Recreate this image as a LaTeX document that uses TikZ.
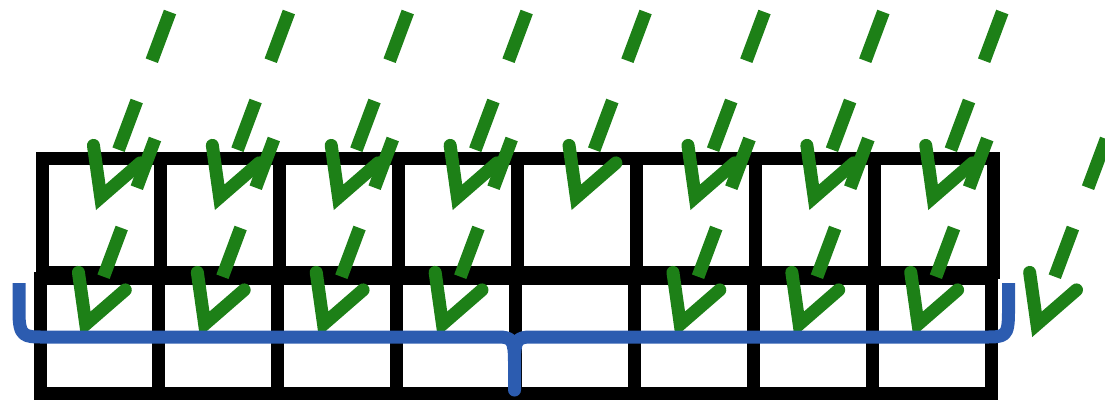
\documentclass[tikz,border=0pt]{standalone}
\usepackage{xcolor}
\usepackage{tikz}
\usetikzlibrary{arrows.meta, positioning}

\definecolor{rainGreen}{RGB}{29,128,23}
\definecolor{braceBlue}{RGB}{44,92,176}

\begin{document}
\begin{tikzpicture}[x=1pt, y=-1pt,
    >={Straight Barb[length=46pt, width=50pt, line cap=round, line join=miter]},
    cell/.style={draw, rectangle, line width=13pt, minimum width=118.9pt, minimum height=114.5pt, inner sep=0pt, outer sep=0pt},
    drop/.style={->, draw=rainGreen, line width=13pt, dash pattern=on 52pt off 43pt}]
        \useasboundingbox (0,0) rectangle (1105,400);

        \node[cell] (u1) at (101.45,215.25) {};
        \foreach \i [count=\j] in {2,...,8}
            \node[cell, right=0pt of u\j] (u\i) {};
        \node[cell, below=6pt of u1, xshift=-2pt] (l1) {};
        \foreach \i [count=\j] in {2,...,8}
            \node[cell, right=0pt of l\j] (l\i) {};

        \foreach \c in {1,...,8} {
            \coordinate (dropA\c) at ({170+118.9*(\c-1)},12);
            \coordinate (hitA\c) at ({96+118.9*(\c-1)},210);
            \draw[drop] (dropA\c) -- (hitA\c);
        }
        \foreach \c in {1,2,3,4,6,7,8,9} {
            \coordinate (dropB\c) at ({155+118.9*(\c-1)},139);
            \coordinate (hitB\c) at ({81+118.9*(\c-1)},337);
            \draw[drop] (dropB\c) -- (hitB\c);
        }

        \draw[braceBlue, line width=13pt, line join=round]
            (19,283) -- (19,312) .. controls (19,337) and (24,337) .. (44,337)
            -- (498,337) .. controls (512,337) and (514.5,340) .. (514.5,362) -- (514.5,390)
            -- (514.5,362) .. controls (514.5,340) and (517,337) .. (531,337)
            -- (985,337) .. controls (1005,337) and (1008.5,337) .. (1008.5,312) -- (1008.5,283);
    \end{tikzpicture}
\end{document}
